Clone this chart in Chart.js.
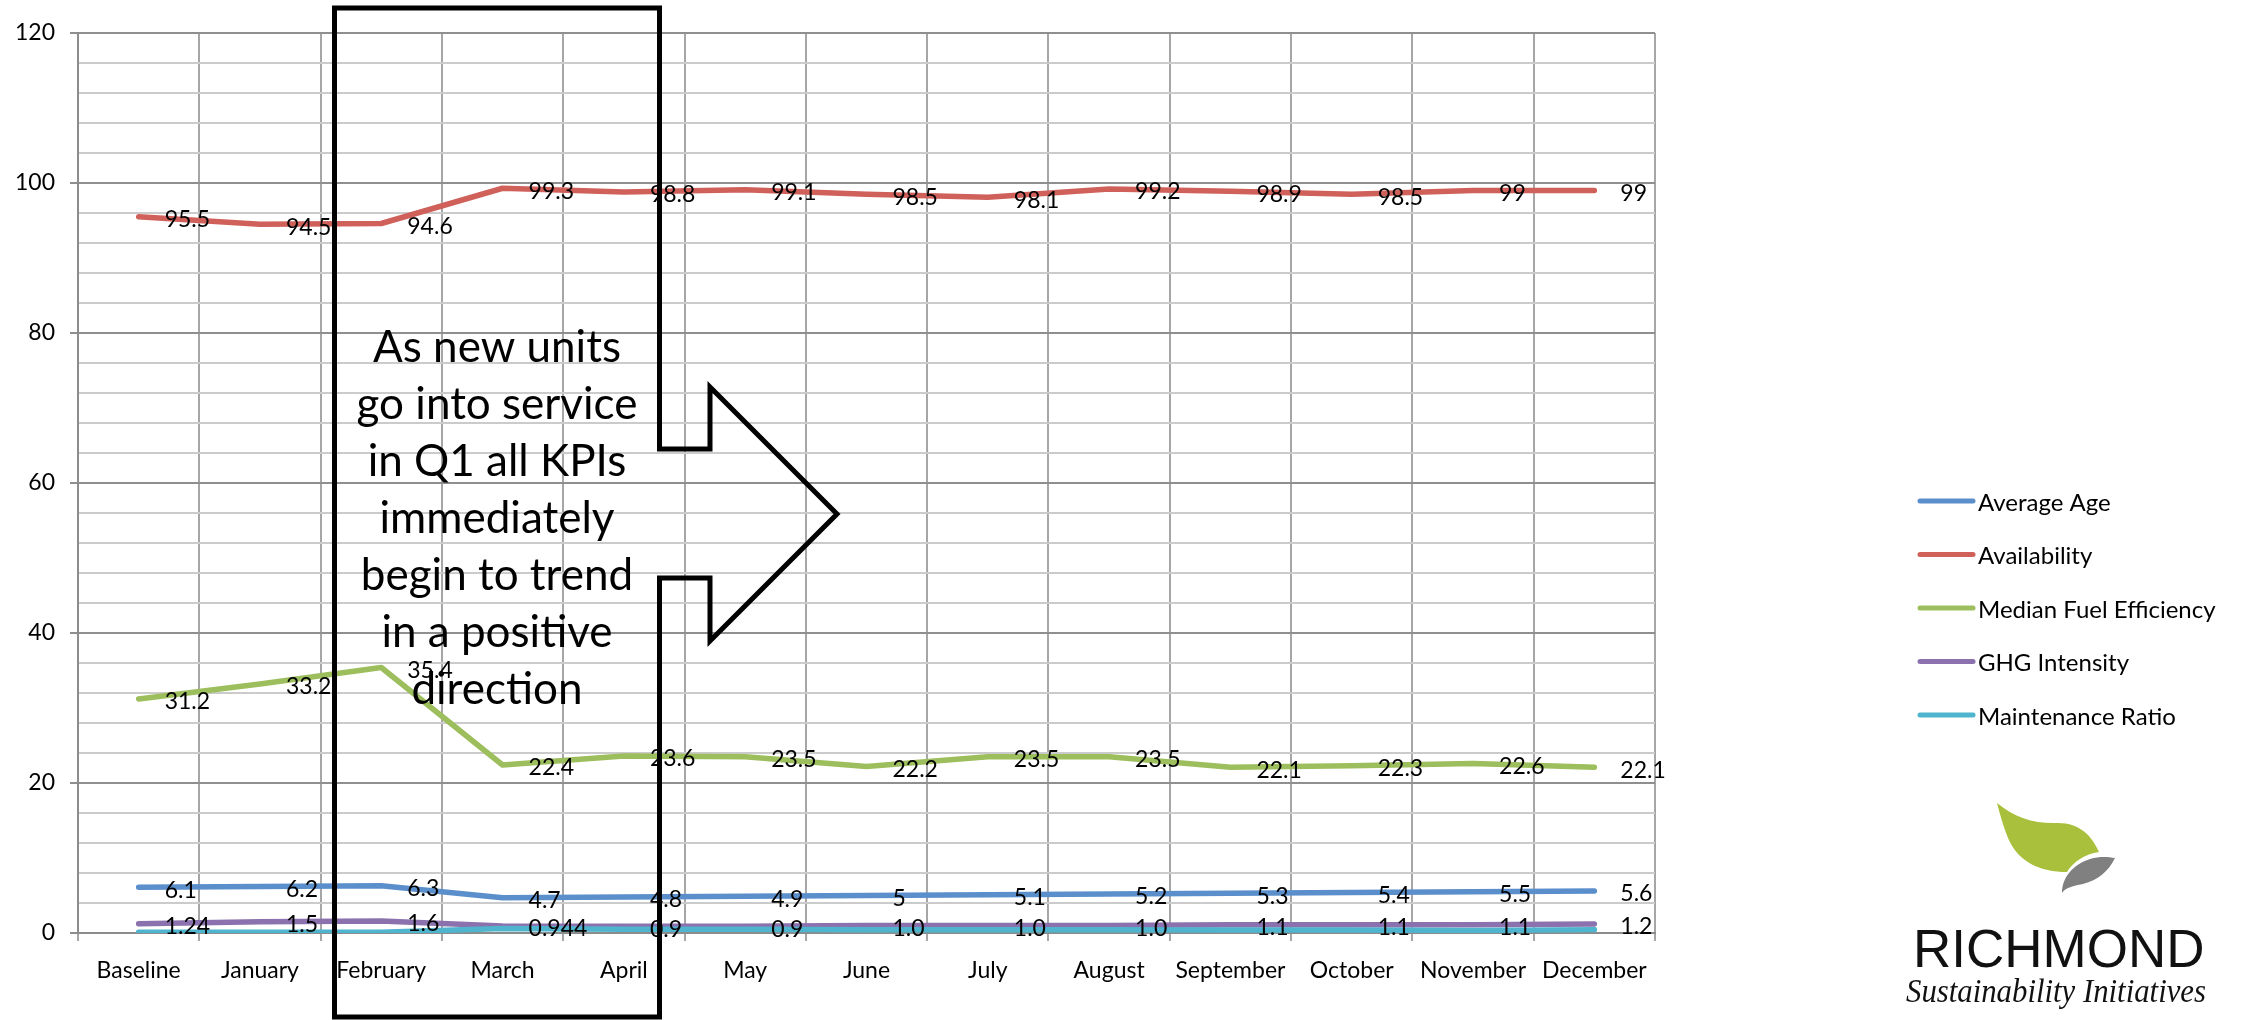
<!DOCTYPE html>
<html>
<head>
<meta charset="utf-8">
<title>Fleet KPIs</title>
<script src="https://cdn.jsdelivr.net/npm/chart.js@4.4.1/dist/chart.umd.min.js"></script>
<style>
  html, body { margin: 0; padding: 0; background: #ffffff; overflow: hidden; }
  #wrap { position: relative; width: 2248px; height: 1020px; }
</style>
</head>
<body>
<div id="wrap"><canvas id="kpiChart" width="2248" height="1020"></canvas></div>
<script>
// Reporting periods
const periods = ['Baseline', 'January', 'February', 'March', 'April', 'May', 'June',
                 'July', 'August', 'September', 'October', 'November', 'December'];

// KPI series
const averageAge = [6.1, 6.2, 6.3, 4.7, 4.8, 4.9, 5, 5.1, 5.2, 5.3, 5.4, 5.5, 5.6];
const availability = [95.5, 94.5, 94.6, 99.3, 98.8, 99.1, 98.5, 98.1, 99.2, 98.9, 98.5, 99, 99];
const medianFuelEfficiency = [31.2, 33.2, 35.4, 22.4, 23.6, 23.5, 22.2, 23.5, 23.5, 22.1, 22.3, 22.6, 22.1];
const ghgIntensity = [1.24, 1.5, 1.6, 0.944, 0.9, 0.9, 1.0, 1.0, 1.0, 1.1, 1.1, 1.1, 1.2];
const maintenanceRatio = [0.1, 0.1, 0.1, 0.6, 0.5, 0.5, 0.45, 0.45, 0.45, 0.4, 0.4, 0.35, 0.45];

// Value axis
const yMin = 0;
const yMax = 120;
const yMajorStep = 20;
const yMinorStep = 4;

// Callout text
const noteLines = ['As new units', 'go into service', 'in Q1 all KPIs', 'immediately',
                   'begin to trend', 'in a positive', 'direction'];

const FONT = 'Lato, "Open Sans", sans-serif';

function formatValue(v, minDecimals) {
  if (minDecimals && Number.isInteger(v)) return v.toFixed(minDecimals);
  return String(v);
}

// Value labels to the right of each point
const valueLabels = {
  id: 'valueLabels',
  afterDatasetsDraw(chart) {
    const ctx = chart.ctx;
    ctx.save();
    ctx.font = '23px ' + FONT;
    ctx.fillStyle = '#000000';
    ctx.textAlign = 'left';
    ctx.textBaseline = 'middle';
    chart.data.datasets.forEach((ds, i) => {
      if (!ds.showValues) return;
      const meta = chart.getDatasetMeta(i);
      meta.data.forEach((pt, j) => {
        ctx.fillText(formatValue(ds.data[j], ds.minDecimals), pt.x + 26, pt.y + 3);
      });
    });
    ctx.restore();
  }
};

// Legend on the right, drawn from the datasets
const sideLegend = {
  id: 'sideLegend',
  afterDraw(chart) {
    const ctx = chart.ctx;
    ctx.save();
    ctx.font = '24px ' + FONT;
    ctx.textAlign = 'left';
    ctx.textBaseline = 'middle';
    chart.data.datasets.forEach((ds, i) => {
      const y = 501 + i * 53.5;
      ctx.strokeStyle = ds.borderColor;
      ctx.lineWidth = 5;
      ctx.lineCap = 'round';
      ctx.beginPath();
      ctx.moveTo(1920, y);
      ctx.lineTo(1973, y);
      ctx.stroke();
      ctx.fillStyle = '#000000';
      ctx.fillText(ds.label, 1978, y + 2);
    });
    ctx.restore();
  }
};

// Callout box with arrow pointing right
const callout = {
  id: 'callout',
  afterDraw(chart) {
    const ctx = chart.ctx;
    ctx.save();
    ctx.strokeStyle = '#000000';
    ctx.lineWidth = 5;
    ctx.lineJoin = 'miter';
    ctx.beginPath();
    ctx.moveTo(334.5, 8);
    ctx.lineTo(659.5, 8);
    ctx.lineTo(659.5, 449);
    ctx.lineTo(710, 449);
    ctx.lineTo(710, 387);
    ctx.lineTo(837, 514);
    ctx.lineTo(710, 641);
    ctx.lineTo(710, 578);
    ctx.lineTo(659.5, 578);
    ctx.lineTo(659.5, 1017);
    ctx.lineTo(334.5, 1017);
    ctx.closePath();
    ctx.stroke();

    ctx.font = '44px ' + FONT;
    ctx.fillStyle = '#000000';
    ctx.textAlign = 'center';
    ctx.textBaseline = 'middle';
    noteLines.forEach((t, i) => ctx.fillText(t, 497, 348 + i * 57));
    ctx.restore();
  }
};

// Organisation logo, lower right
const logo = {
  id: 'logo',
  afterDraw(chart) {
    const ctx = chart.ctx;
    ctx.save();

    // green leaf
    ctx.fillStyle = '#a8c03c';
    ctx.beginPath();
    ctx.moveTo(1997, 803);
    ctx.bezierCurveTo(2015, 818, 2035, 824, 2058, 823);
    ctx.bezierCurveTo(2080, 823, 2092, 836, 2099, 852);
    ctx.bezierCurveTo(2085, 854, 2073, 862, 2067, 872);
    ctx.bezierCurveTo(2040, 872, 2018, 862, 2008, 838);
    ctx.bezierCurveTo(2003, 826, 2000, 814, 1997, 803);
    ctx.closePath();
    ctx.fill();

    // grey leaf
    ctx.fillStyle = '#808080';
    ctx.beginPath();
    ctx.moveTo(2062, 893);
    ctx.bezierCurveTo(2062, 878, 2072, 865, 2090, 859);
    ctx.bezierCurveTo(2100, 856, 2108, 857, 2115, 858);
    ctx.bezierCurveTo(2108, 872, 2098, 880, 2083, 884);
    ctx.bezierCurveTo(2072, 886, 2065, 888, 2062, 893);
    ctx.closePath();
    ctx.fill();

    ctx.fillStyle = '#111111';
    ctx.textAlign = 'left';
    ctx.textBaseline = 'alphabetic';
    ctx.font = '53px "Liberation Sans", Arial, sans-serif';
    ctx.fillText('RICHMOND', 1913, 967, 295);
    ctx.font = 'italic 33px "Liberation Serif", "DejaVu Serif", serif';
    ctx.fillText('Sustainability Initiatives', 1906, 1002, 300);
    ctx.restore();
  }
};

const ctx = document.getElementById('kpiChart').getContext('2d');
new Chart(ctx, {
  type: 'line',
  data: {
    labels: periods,
    datasets: [
      { label: 'Average Age', data: averageAge, borderColor: '#5a8fcb', showValues: true, order: 5 },
      { label: 'Availability', data: availability, borderColor: '#d0605a', showValues: true, order: 4 },
      { label: 'Median Fuel Efficiency', data: medianFuelEfficiency, borderColor: '#9dbe5c', showValues: true, order: 3 },
      { label: 'GHG Intensity', data: ghgIntensity, borderColor: '#8b72ae', showValues: true, minDecimals: 1, order: 2 },
      { label: 'Maintenance Ratio', data: maintenanceRatio, borderColor: '#4fb4cd', showValues: false, order: 1 }
    ].map(d => Object.assign({
      borderWidth: 5.5,
      tension: 0,
      fill: false,
      pointRadius: 0,
      pointHoverRadius: 0,
      borderCapStyle: 'round',
      borderJoinStyle: 'round'
    }, d))
  },
  options: {
    responsive: false,
    animation: false,
    devicePixelRatio: 1,
    layout: { padding: { left: 0, right: 593, top: 33, bottom: 0 } },
    plugins: { legend: { display: false }, tooltip: { enabled: false } },
    scales: {
      x: {
        offset: true,
        grid: {
          offset: true,
          color: '#a6a6a6',
          lineWidth: 2,
          tickLength: 8,
          tickColor: '#a6a6a6'
        },
        border: { color: '#8c8c8c', width: 2 },
        ticks: {
          autoSkip: false,
          maxRotation: 0,
          minRotation: 0,
          padding: 16,
          color: '#000000',
          font: { family: FONT, size: 23 }
        },
        afterFit(scale) { scale.height = 87; }
      },
      y: {
        min: yMin,
        max: yMax,
        grid: {
          color: c => (c.tick && c.tick.value % yMajorStep === 0) ? '#8f8f8f' : '#cbcbcb',
          lineWidth: 2,
          tickLength: 8,
          tickColor: c => (c.tick && c.tick.value % yMajorStep === 0) ? '#8f8f8f' : 'rgba(0,0,0,0)'
        },
        border: { color: '#8c8c8c', width: 2 },
        ticks: {
          stepSize: yMinorStep,
          autoSkip: false,
          padding: 15,
          color: '#000000',
          font: { family: FONT, size: 23 },
          callback: v => (v % yMajorStep === 0 ? String(v) : '')
        },
        afterFit(scale) { scale.width = 78; }
      }
    }
  },
  plugins: [valueLabels, sideLegend, callout, logo]
});
</script>
</body>
</html>
